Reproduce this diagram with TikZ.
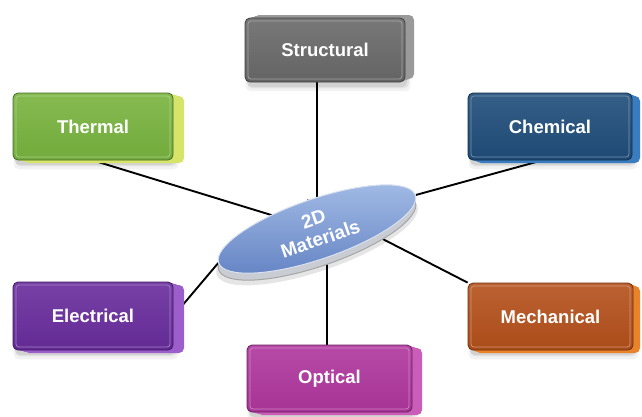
\documentclass[tikz,border=0pt]{standalone}
\usepackage{fontspec}
\setmainfont{Liberation Sans}
\usetikzlibrary{shapes.geometric,shadows,calc}
\pgfdeclarelayer{paper}
\pgfdeclarelayer{bg}
\pgfsetlayers{paper,bg,main}

% face / side colours of the blocks
\definecolor{structface}{HTML}{696969}
\definecolor{structside}{HTML}{9A9A9A}
\definecolor{thermface}{HTML}{78B33E}
\definecolor{thermside}{HTML}{D6E46A}
\definecolor{chemface}{HTML}{1F4D7A}
\definecolor{chemside}{HTML}{3A7CC0}
\definecolor{elecface}{HTML}{682C9C}
\definecolor{elecside}{HTML}{9B5ECB}
\definecolor{mechface}{HTML}{B4501B}
\definecolor{mechside}{HTML}{E8832A}
\definecolor{optface}{HTML}{AF369D}
\definecolor{optside}{HTML}{C95DB8}
\definecolor{hubtop}{HTML}{A3BCE6}
\definecolor{hubbot}{HTML}{6584C4}
\definecolor{hubrim}{HTML}{C9CCD2}

\tikzset{
  % soft ground shadow built from a few faint copies
  softshadow/.style={
    general shadow={fill=black, opacity=0.05, shadow xshift=3pt, shadow yshift=-8pt, shadow scale=1.03},
    general shadow={fill=black, opacity=0.06, shadow xshift=3pt, shadow yshift=-6pt, shadow scale=1.01},
    general shadow={fill=black, opacity=0.07, shadow xshift=2pt, shadow yshift=-5pt}
  },
  cube/.style n args={4}{
    rectangle, rounded corners=5pt, inner sep=0pt,
    minimum width=162pt, minimum height=67pt,
    softshadow,
    general shadow={fill=#2, shadow xshift=#3*1pt, shadow yshift=#4*1pt},
    general shadow={fill=#2, shadow xshift=0.66*#3*1pt, shadow yshift=0.66*#4*1pt},
    general shadow={fill=#2, shadow xshift=0.33*#3*1pt, shadow yshift=0.33*#4*1pt},
    top color=#1!90!white, bottom color=#1!95!black,
    draw=#1!60!black, line width=0.8pt,
    path picture={\draw[#1!60!white, line width=0.7pt, rounded corners=3pt]
      ([shift={(3pt,-3pt)}]path picture bounding box.north west) rectangle
      ([shift={(-3pt,3pt)}]path picture bounding box.south east);},
    text=white, font=\fontsize{18.5}{22}\selectfont\bfseries
  },
  hub/.style={
    ellipse, rotate=19, inner sep=0pt,
    minimum width=208pt, minimum height=60pt,
    general shadow={fill=black, opacity=0.10, shadow yshift=-11pt, shadow scale=1.02},
    general shadow={fill=hubrim, draw=gray!70, shadow yshift=-7pt},
    top color=hubtop, bottom color=hubbot,
    draw=white!75!hubbot, line width=1pt,
    text=white, align=center,
    font=\fontsize{19}{21}\selectfont\bfseries
  },
  link/.style={line width=1.9pt, black}
}

\begin{document}
\begin{tikzpicture}[x=1pt, y=-1pt]
  \begin{pgfonlayer}{paper}
    \fill[white] (0,0) rectangle (642,416);
  \end{pgfonlayer}
  \useasboundingbox (0,0) rectangle (642,416);

  % central hub
  \node[hub] (hub) at (317,229) {2D\\Materials};

  % property blocks
  \node[cube={structface}{structside}{9}{3}, minimum width=160pt, minimum height=64pt]
    (structural) at (325,50) {Structural};
  \node[cube={thermface}{thermside}{11}{-3}, minimum width=160pt]
    (thermal) at (93,126.5) {Thermal};
  \node[cube={chemface}{chemside}{8}{-3}, minimum width=164pt]
    (chemical) at (550,126.5) {Chemical};
  \node[cube={elecface}{elecside}{11}{-3}, minimum width=160pt, minimum height=68pt]
    (electrical) at (93,316) {Electrical};
  \node[cube={mechface}{mechside}{7}{-3}, minimum width=165pt]
    (mechanical) at (550.5,316.5) {Mechanical};
  \node[cube={optface}{optside}{10}{-3}, minimum width=165pt, minimum height=67pt]
    (optical) at (329.5,378.5) {Optical};

  % spokes, kept beneath hub and blocks
  \begin{pgfonlayer}{bg}
    \draw[link] (hub.center) -- (hub.center |- structural.south);
    \draw[link] (hub.center) -- (thermal.south);
    \draw[link] (hub.east) -- ([xshift=-8pt]chemical.south);
    \draw[link] (hub.west) -- (electrical.east);
    \draw[link] (hub.north) -- (mechanical.north west);
    \draw[link] (hub.south) -- (hub.south |- optical.north);
  \end{pgfonlayer}
\end{tikzpicture}
\end{document}
